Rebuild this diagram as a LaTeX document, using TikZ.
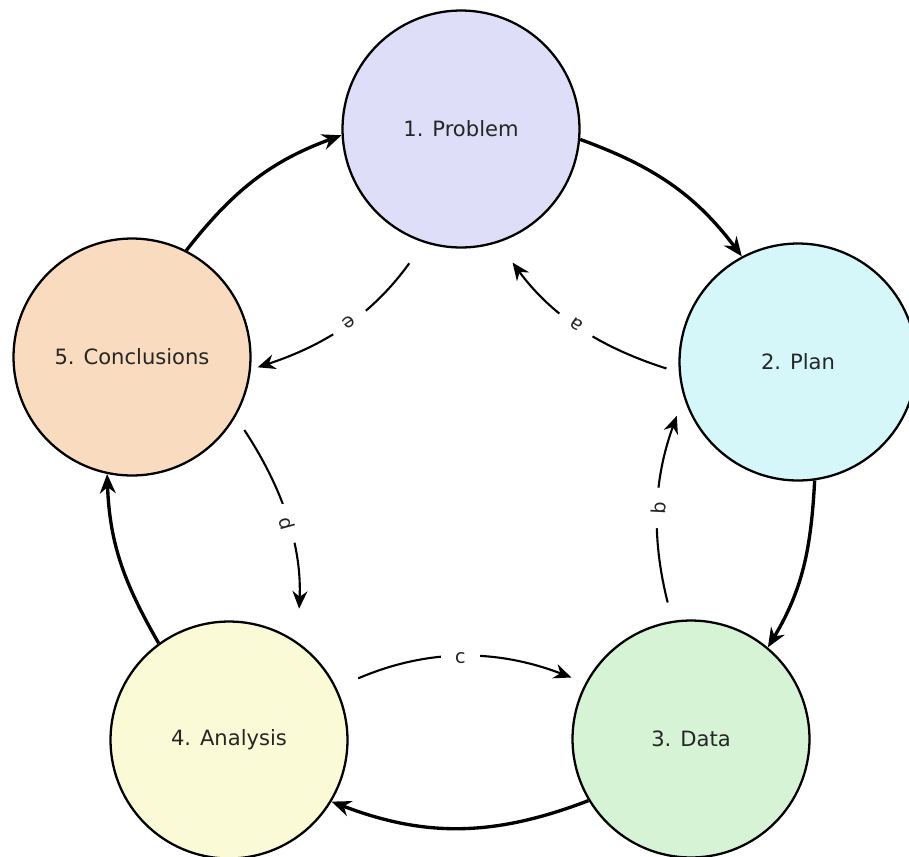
\documentclass[tikz,border=0pt]{standalone}
\usepackage{fontspec}
\setmainfont{DejaVu Sans}
\usepackage{xcolor}
\usepackage{tikz}
\usetikzlibrary{arrows.meta}
\definecolor{problemfill}{HTML}{DEDEF9}
\definecolor{planfill}{HTML}{D6F7FA}
\definecolor{datafill}{HTML}{D6F3D6}
\definecolor{analysisfill}{HTML}{FAFAD6}
\definecolor{conclfill}{HTML}{F9DBBF}
\tikzset{
  stage/.style={circle, draw=black, line width=1.3pt, minimum size=4.74cm,
                inner sep=0pt, text=black!85, font=\fontsize{12}{14}\selectfont},
  mainflow/.style={line width=1.9pt, -{Stealth[length=11pt, width=9pt]}},
  backflow/.style={line width=1.2pt, -{Stealth[length=10pt, width=8.5pt]}},
  tag/.style={fill=white, inner xsep=8pt, inner ysep=2pt, sloped, allow upside down,
              text=black!85, font=\fontsize{11}{13}\selectfont}
}

\begin{document}
\begin{tikzpicture}[x=0.02cm, y=-0.02cm]
  \useasboundingbox (0,0) rectangle (909,856);

  \node[stage, fill=problemfill]  (problem)  at (461,129) {1. Problem};
  \node[stage, fill=planfill]     (plan)     at (798,362) {2. Plan};
  \node[stage, fill=datafill]     (data)     at (691,739) {3. Data};
  \node[stage, fill=analysisfill] (analysis) at (229,740) {4. Analysis};
  \node[stage, fill=conclfill]    (concl)    at (132,357) {5. Conclusions};

  % outer cycle
  \draw[mainflow] (problem.-5)  to[out=-20, in=127] (plan.118);
  \draw[mainflow] (plan.-82)    to[out=-93, in=59]  (data.50);
  \draw[mainflow] (data.211)    to[out=201, in=-21] (analysis.-31);
  \draw[mainflow] (analysis.126) to[out=120, in=272] (concl.258);
  \draw[mainflow] (concl.63)    to[out=52, in=200]  (problem.183);

  % inner links
  \draw[backflow, shorten <=7.4pt, shorten >=14pt]
    (plan.185) to[bend left=18] node[tag] {a} (problem.-72);
  \draw[backflow, shorten <=10.8pt, shorten >=11.4pt]
    (data.99.5) to[bend left=17] node[tag] {b} (plan.197.7);
  \draw[backflow, shorten <=13.4pt, shorten >=8.5pt]
    (analysis.26) to[bend left=22] node[tag] {c} (data.152.4);
  \draw[backflow, shorten <=9pt, shorten >=19pt]
    (concl.-30) to[bend left=18] node[tag] {d} (analysis.55);
  \draw[backflow, shorten <=14.4pt, shorten >=4pt]
    (problem.252.3) to[bend left=18] node[tag] {e} (concl.-6.3);
\end{tikzpicture}
\end{document}
